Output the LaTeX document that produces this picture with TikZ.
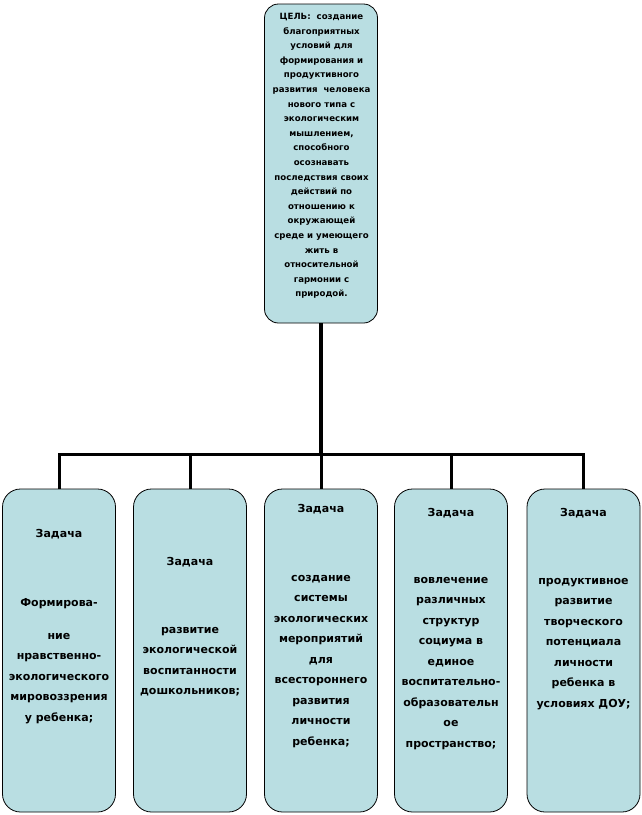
\documentclass[tikz,border=0pt]{standalone}
\usepackage{fontspec}
\setmainfont{DejaVu Sans}
\definecolor{boxfill}{RGB}{185,222,226}

\begin{document}
\begin{tikzpicture}[x=1pt,y=-1pt,
    goal/.style={draw,line width=0.8pt,fill=boxfill,rounded corners=14pt,minimum width=113pt,minimum height=319pt,inner sep=0pt},
    task/.style={draw,line width=0.8pt,fill=boxfill,rounded corners=18pt,minimum width=113pt,minimum height=323pt,inner sep=0pt},
    goaltext/.style={anchor=north,align=center,inner sep=0pt,font=\bfseries\fontsize{8.6}{14.6}\selectfont},
    tasktext/.style={anchor=north,align=center,inner sep=0pt,font=\bfseries\fontsize{11}{20.5}\selectfont},
    link/.style={line width=3pt}]
      \useasboundingbox (0,0) rectangle (642,815);
      \draw
        (321,163.5) node[goal] (goal){}
        (59,650.5) node[task] (t1){}
        (190,650.5) node[task] (t2){}
        (321,650.5) node[task] (t3){}
        (451,650.5) node[task] (t4){}
        (583.5,650.5) node[task] (t5){};
      % connectors
      \coordinate (hub) at (321,454);
      \draw[line width=4pt] (goal.south) -- (hub);
      \draw[link] (t1.north) -- (t1.north |- hub) -- (t5.north |- hub) -- (t5.north);
      \foreach \t in {t2,t3,t4}
        \draw[link] (\t.north) -- (\t.north |- hub);
      % texts
      \node[goaltext] (goaltxt) at (321.5,13) {ЦЕЛЬ:\ \ создание\\ благоприятных\\ условий для\\ формирования и\\ продуктивного\\ развития\ \ человека\\ нового типа с\\ экологическим\\ мышлением,\\ способного\\ осознавать\\ последствия своих\\ действий по\\ отношению к\\ окружающей\\ среде и умеющего\\ жить в\\ относительной\\ гармонии с\\ природой.};
      \node[tasktext] (t1txt) at (59,529) {Задача\\[48.5pt] Формирова-\\[12.5pt] ние\\ нравственно-\\ экологического\\ мировоззрения\\ у ребенка;};
      \node[tasktext] (t2txt) at (190,557) {Задача\\[47.5pt] развитие\\ экологической\\ воспитанности\\ дошкольников;};
      \node[tasktext] (t3txt) at (321,504) {Задача\\[48.5pt] создание\\ системы\\ экологических\\ мероприятий\\ для\\ всестороннего\\ развития\\ личности\\ ребенка;};
      \node[tasktext] (t4txt) at (451,508) {Задача\\[46.5pt] вовлечение\\ различных\\ структур\\ социума в\\ единое\\ воспитательно-\\ образовательн\\ ое\\ пространство;};
      \node[tasktext] (t5txt) at (583.5,508) {Задача\\[47.5pt] продуктивное\\ развитие\\ творческого\\ потенциала\\ личности\\ ребенка в\\ условиях ДОУ;};
    \end{tikzpicture}
\end{document}
